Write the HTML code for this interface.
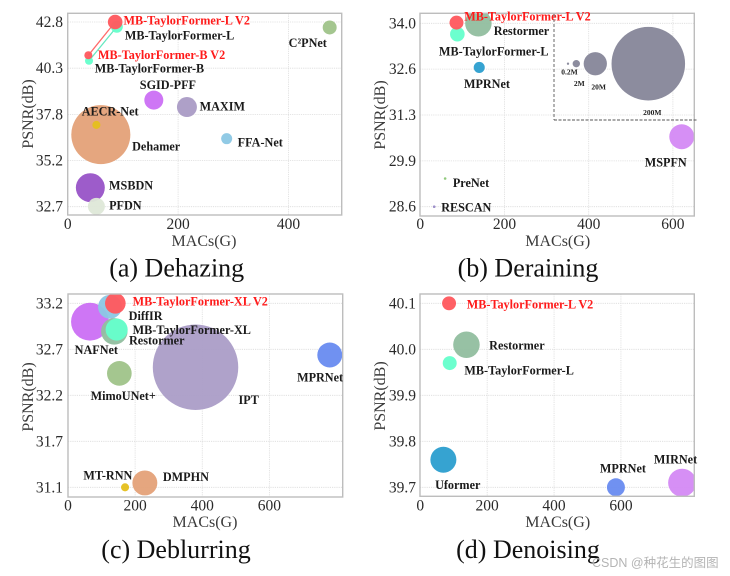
<!DOCTYPE html>
<html>
<head>
<meta charset="utf-8">
<style>
html,body{margin:0;padding:0;background:#fff;}
#stage{display:block;width:730px;height:576px;filter:blur(0.35px);}
text{font-family:"Liberation Serif","Noto Serif CJK SC",serif;fill:#222;}
.tick{font-size:15.5px;fill:#2a2a2a;}
.axis{font-size:16px;fill:#3a3a3a;}
.caption{font-size:26px;fill:#111;text-anchor:middle;}
.lbl{font-size:12.2px;font-weight:bold;fill:#1a1a1a;}
.lbl.red{fill:#ff1a1a;}
.leg{font-size:7.5px;font-weight:bold;fill:#222;text-anchor:middle;}
.wm{font-size:12.5px;fill:#b4b4b4;font-family:"Liberation Sans","Noto Sans CJK SC",sans-serif;}
</style>
</head>
<body>
<svg id="stage" xmlns="http://www.w3.org/2000/svg" width="730" height="576" viewBox="0 0 730 576"></svg>
<script>
/* ---------- data ---------- */
const dehazeNames = ["MB-TaylorFormer-L","MB-TaylorFormer-L V2","MB-TaylorFormer-B","MB-TaylorFormer-B V2","C²PNet","SGID-PFF","MAXIM","Dehamer","AECR-Net","FFA-Net","MSBDN","PFDN"];
const dehazeMacs = [89,86,38.6,37.4,474.6,156,216,60,52,288,41,52];
const dehazePsnr = [42.54,42.8,40.68,40.98,42.5,38.53,38.15,36.64,37.17,36.42,33.74,32.72];
const dehazeParams = [5.3,7.9,2.4,2.4,7.2,13.3,14.8,129,2.4,4.5,31,10.7];
const dehazeXTicks = [0,200,400];
const dehazeYTicks = [32.7,35.225,37.75,40.275,42.8];
const dehazeYLabels = ["32.7","35.2","37.8","40.3","42.8"];

const derainNames = ["Restormer","MB-TaylorFormer-L","MB-TaylorFormer-L V2","MPRNet","MSPFN","PreNet","RESCAN"];
const derainMacs = [138,88,86,140,621,59,33];
const derainPsnr = [34.0,33.68,34.02,32.7,30.66,29.43,28.6];
const derainParams = [26,7.9,7.2,4.5,23,0.25,0.25];
const derainXTicks = [0,200,400,600];
const derainYTicks = [28.6,29.95,31.3,32.65,34.0];
const derainYLabels = ["28.6","29.9","31.3","32.6","34.0"];
const sizeLegendNames = ["0.2M","2M","20M","200M"];
const sizeLegendParams = [0.2,2,20,200];

const deblurNames = ["NAFNet","DiffIR","MB-TaylorFormer-XL V2","Restormer","MB-TaylorFormer-XL","MimoUNet+","IPT","MPRNet","MT-RNN","DMPHN"];
const deblurMacs = [65.5,125,141,138,145,153,380,780,170,229];
const deblurPsnr = [32.99,33.16,33.2,32.88,32.9,32.4,32.47,32.61,31.1,31.15];
const deblurParams = [53,21,15.7,26,18,22.5,270,23,2.4,23];
const deblurXTicks = [0,200,400,600];
const deblurYTicks = [31.1,31.625,32.15,32.675,33.2];
const deblurYLabels = ["31.1","31.7","32.2","32.7","33.2"];

const denoiseNames = ["MB-TaylorFormer-L V2","Restormer","MB-TaylorFormer-L","Uformer","MPRNet","MIRNet"];
const denoiseMacs = [86,138,88,69,585,783];
const denoisePsnr = [40.1,40.01,39.97,39.76,39.7,39.71];
const denoiseParams = [7.2,26,7.2,25,12,29];
const denoiseXTicks = [0,200,400,600];
const denoiseYTicks = [39.7,39.8,39.9,40.0,40.1];
const denoiseYLabels = ["39.7","39.8","39.9","40.0","40.1"];

/* ---------- presentation ---------- */
const RED = "#ff5a5f", TEAL = "#66ffcc", REST = "#93bea0";
const NS = "http://www.w3.org/2000/svg";
const stage = document.getElementById("stage");
const radiusOf = p => 2.6 * Math.sqrt(p);
const slug = s => s.toLowerCase().replace(/²/g,"2").replace(/\+/g,"-plus").replace(/[^a-z0-9]+/g,"-").replace(/^-|-$/g,"");

function make(tag, attrs, parent, txt){
  const el = document.createElementNS(NS, tag);
  for (const k in attrs) el.setAttribute(k, attrs[k]);
  if (txt !== undefined) el.textContent = txt;
  (parent || stage).appendChild(el);
  return el;
}

const panels = [
 {id:"dehazing", caption:"(a) Dehazing", names:dehazeNames, macs:dehazeMacs, psnr:dehazePsnr, params:dehazeParams,
  xTicks:dehazeXTicks, yTicks:dehazeYTicks, yLabels:dehazeYLabels,
  box:[67.7,13.3,341.7,215], x0:67.7, xPerG:0.552, yLoPx:206.7, yHiPx:22,
  tickRight:63, xTickY:229, xTitle:[204,246], yTitle:[33,114], cap:[176.7,276.7],
  colors:[TEAL,RED,TEAL,RED,"#a0c48a","#cc70f5","#ab9cc6","#e4a27a","#e5bf1e","#8cc8e4","#9955c8","#dfe8d8"],
  offsets:[[8,12.7],[8.3,2.7],[5.7,11.7],[9.7,3.7],[-41,19.3],[-14,-11.3],[12.7,3.3],[31.3,15.7],[-14.7,-9.3],[11,8],[18.7,2],[12.7,3.3]],
  links:[[0,2,"#66e8c0"],[1,3,"#ff6a6a"]]},
 {id:"deraining", caption:"(b) Deraining", names:derainNames, macs:derainMacs, psnr:derainPsnr, params:derainParams,
  xTicks:derainXTicks, yTicks:derainYTicks, yLabels:derainYLabels,
  box:[420,13.3,694.3,216], x0:420.3, xPerG:0.421, yLoPx:206.7, yHiPx:23.3,
  tickRight:416, xTickY:229, xTitle:[557.7,246], yTitle:[385,115], cap:[528,276.7],
  colors:[REST,TEAL,RED,"#2e9fcf","#d48af5","#8cc878","#9a8cc8"],
  offsets:[[15.3,11.7],[-18.3,21.3],[7.7,-2.3],[-15.3,20.7],[-37,29.7],[7.7,8.3],[7,4.7]],
  links:[]},
 {id:"deblurring", caption:"(c) Deblurring", names:deblurNames, macs:deblurMacs, psnr:deblurPsnr, params:deblurParams,
  xTicks:deblurXTicks, yTicks:deblurYTicks, yLabels:deblurYLabels,
  box:[68,294,342.7,497], x0:68, xPerG:0.3356, yLoPx:487.3, yHiPx:303.3,
  tickRight:63, xTickY:510.7, xTitle:[205,527], yTitle:[33,397], cap:[176,558],
  colors:["#cc70f5","#8cc8e4",RED,REST,TEAL,"#a0c48a","#ac9ec8","#6a8cf0","#e5bf1e","#e4a27a"],
  offsets:[[-15.3,32.3],[18.7,13.3],[17.3,2],[14.7,13.3],[16,4.3],[-28.7,26.7],[43,36.7],[-32.7,26.7],[-41.7,-8],[18,-1.7]],
  links:[]},
 {id:"denoising", caption:"(d) Denoising", names:denoiseNames, macs:denoiseMacs, psnr:denoisePsnr, params:denoiseParams,
  xTicks:denoiseXTicks, yTicks:denoiseYTicks, yLabels:denoiseYLabels,
  box:[420,294,694.3,496.3], x0:420.3, xPerG:0.3344, yLoPx:487.3, yHiPx:303.3,
  tickRight:416, xTickY:510.7, xTitle:[557.7,527], yTitle:[385,396], cap:[528,558],
  colors:[RED,REST,TEAL,"#2e9fcf","#6a8cf0","#d48af5"],
  offsets:[[17.7,5.3],[22.7,5],[14.7,11.3],[-8.3,29.3],[-16,-15],[-28.3,-19]],
  links:[]}
];

panels.forEach(function(p){
  const n = p.yTicks.length;
  const xScale = v => p.x0 + v * p.xPerG;
  const yScale = v => p.yLoPx - (v - p.yTicks[0]) / (p.yTicks[n-1] - p.yTicks[0]) * (p.yLoPx - p.yHiPx);
  const [bx0,by0,bx1,by1] = p.box;

  const g = make("g", {});
  
  

  const clip = make("clipPath", {id:"clip-" + p.id}, g);
  make("rect", {x:bx0,y:by0,width:bx1-bx0,height:by1-by0}, clip);

  p.xTicks.forEach(function(t, i){
    const x = xScale(t);
    if (i > 0) {
      const gl = make("line", {x1:x,x2:x,y1:by0,y2:by1,stroke:"#dcdcdc","stroke-width":0.8,"stroke-dasharray":"1.2 1"}, g);
      
      
    }
    const tl = make("text", {x:x,y:p.xTickY,"text-anchor":"middle","class":"tick"}, g, String(t));
    
    
  });
  p.yTicks.forEach(function(t, i){
    const y = yScale(t);
    const gl = make("line", {x1:bx0,x2:bx1,y1:y,y2:y,stroke:"#dcdcdc","stroke-width":0.8,"stroke-dasharray":"1.2 1"}, g);
    
    
    const tl = make("text", {x:p.tickRight,y:y+5,"text-anchor":"end","class":"tick"}, g, p.yLabels[i]);
    
    
  });

  const marks = make("g", {"clip-path":"url(#clip-" + p.id + ")"}, g);
  
  

  p.links.forEach(function(l){
    const ln = make("line", {x1:xScale(p.macs[l[0]]),y1:yScale(p.psnr[l[0]]),x2:xScale(p.macs[l[1]]),y2:yScale(p.psnr[l[1]]),stroke:l[2],"stroke-width":1.3}, marks);
    
    
  });

  p.names.forEach(function(name, i){
    const c = make("circle", {cx:xScale(p.macs[i]),cy:yScale(p.psnr[i]),r:radiusOf(p.params[i]),fill:p.colors[i],"fill-opacity":0.96}, marks);
    
    
  });

  const frame = make("rect", {x:bx0,y:by0,width:bx1-bx0,height:by1-by0,fill:"none",stroke:"#bdbdbd","stroke-width":1.4}, g);
  
  

  p.names.forEach(function(name, i){
    const isRed = name.indexOf("V2") >= 0;
    const t = make("text", {x:xScale(p.macs[i]) + p.offsets[i][0], y:yScale(p.psnr[i]) + p.offsets[i][1], "class":isRed ? "lbl red" : "lbl"}, g, name);
    
    
  });

  const xt = make("text", {x:p.xTitle[0],y:p.xTitle[1],"text-anchor":"middle","class":"axis"}, g, "MACs(G)");
  
  
  const yt = make("text", {transform:"translate(" + p.yTitle[0] + "," + p.yTitle[1] + ") rotate(-90)","text-anchor":"middle","class":"axis"}, g, "PSNR(dB)");
  
  
  const cp = make("text", {x:p.cap[0],y:p.cap[1],"class":"caption"}, g, p.caption);
  
  
});

/* size legend in the deraining panel */
(function(){
  const lg = make("g", {});
  
  
  const cx = [568,576.3,595.3,648.3];
  const lx = [569.5,579.3,598.7,652.3];
  const ly = [74.5,86,89.5,115];
  sizeLegendNames.forEach(function(name, i){
    const c = make("circle", {cx:cx[i],cy:63.7,r:radiusOf(sizeLegendParams[i]),fill:"#8c8c9e"}, lg);
    
    
    const t = make("text", {x:lx[i],y:ly[i],"class":"leg"}, lg, name);
    
    
  });
  const v = make("line", {x1:554,y1:14,x2:554,y2:120,stroke:"#8a8a8a","stroke-width":1.3,"stroke-dasharray":"3 2"}, lg);
  
  
  const h = make("line", {x1:554,y1:120,x2:698,y2:120,stroke:"#555","stroke-width":1.1,"stroke-dasharray":"3 1.5"}, lg);
  
  
})();

const wm = make("text", {x:592,y:567,"class":"wm"}, stage, "CSDN @种花生的图图");


</script>
</body>
</html>
